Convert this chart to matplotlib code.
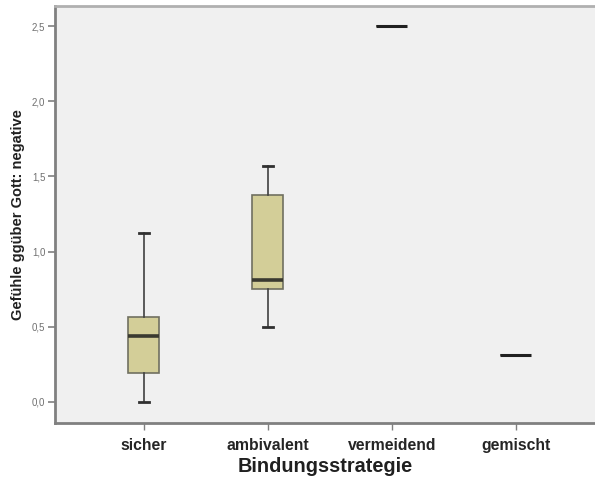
import matplotlib
matplotlib.use("Agg")
import matplotlib.pyplot as plt

plt.rcParams['font.family'] = ['Liberation Sans', 'DejaVu Sans']

categories = ["sicher", "ambivalent", "vermeidend", "gemischt"]
whisker_low = [0.0, 0.50, 2.50, 0.313]
q1 = [0.19, 0.75, 2.50, 0.313]
median = [0.438, 0.813, 2.50, 0.313]
q3 = [0.567, 1.373, 2.50, 0.313]
whisker_high = [1.125, 1.567, 2.50, 0.313]
yticks = [0.0, 0.5, 1.0, 1.5, 2.0, 2.5]
ytick_labels = ["0,0", "0,5", "1,0", "1,5", "2,0", "2,5"]

fig = plt.figure(figsize=(5.95, 4.83), dpi=100)
ax = fig.add_axes([55/595, 60/483, 540/595, 417/483])
ax.set_facecolor("#f0f0f0")

stats = []
for i, c in enumerate(categories):
    stats.append(dict(label=c, whislo=whisker_low[i], q1=q1[i], med=median[i],
                      q3=q3[i], whishi=whisker_high[i], fliers=[]))

positions = list(range(1, len(categories) + 1))
single = [whisker_low[i] == whisker_high[i] for i in range(len(categories))]

bp = ax.bxp(stats, positions=positions, widths=0.25, patch_artist=True,
            showfliers=False,
            boxprops=dict(facecolor="#d3ce98", edgecolor="#707060", linewidth=1.2),
            medianprops=dict(color="#3a3a30", linewidth=2.6, solid_capstyle="butt"),
            whiskerprops=dict(color="#404040", linewidth=1.2),
            capprops=dict(color="#303030", linewidth=2.0),
            capwidths=0.08)
for i, s in enumerate(single):
    if s:
        bp['caps'][2*i].set_visible(False)
        bp['caps'][2*i+1].set_visible(False)
        bp['medians'][i].set_color("#202020")
        bp['medians'][i].set_linewidth(2.2)

ax.set_xlim(0.282, 4.64)
ax.set_ylim(-0.14, 2.633)
ax.set_yticks(yticks)
ax.set_yticklabels(ytick_labels, fontsize=7, color="#707070")
ax.set_xticks(positions)
ax.set_xticklabels(categories, fontsize=11.3, fontweight="bold", color="#252525")

ax.tick_params(axis='y', length=5, width=1.2, color="#808080", pad=2)
ax.tick_params(axis='x', length=5, width=1.0, color="#808080", pad=6)

for side in ['left', 'bottom']:
    ax.spines[side].set_color("#808080")
    ax.spines[side].set_linewidth(2.0)
ax.spines['top'].set_color("#b0b0b0")
ax.spines['top'].set_linewidth(2.0)
ax.spines['right'].set_visible(False)

ax.set_xlabel("Bindungsstrategie", fontsize=14.3, fontweight="bold", color="#202020", labelpad=3)
ax.set_ylabel("Gefühle ggüber Gott: negative", fontsize=10.5, fontweight="bold", color="#202020")
ax.yaxis.set_label_coords(-0.055, 0.5)

fig.savefig("out.png", dpi=100)
